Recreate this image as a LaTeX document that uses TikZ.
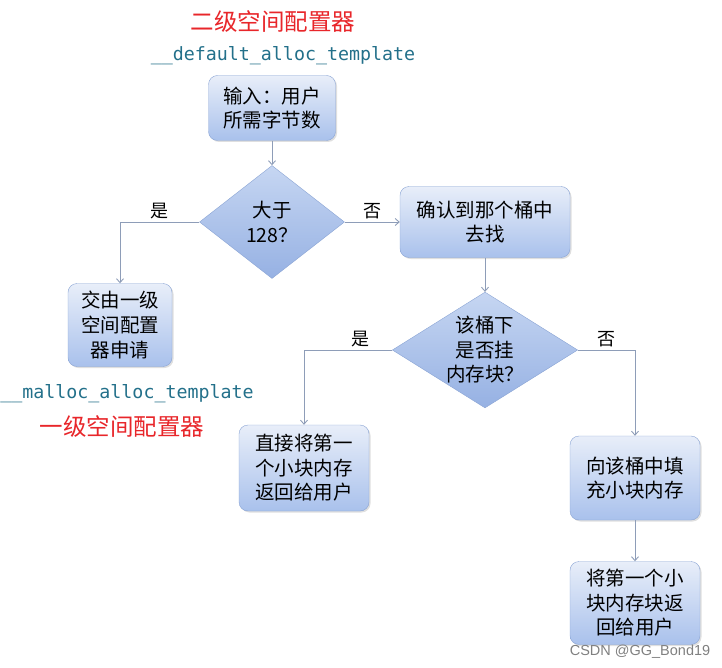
\documentclass[tikz,border=0pt]{standalone}
\usepackage{fontspec}
\newfontfamily\cjk{Noto Sans CJK SC}
\newfontfamily\codefont{DejaVu Sans Mono}
\newfontfamily\markfont{Liberation Sans}
\usetikzlibrary{shapes.geometric,arrows.meta,shadows}
\definecolor{boxtop}{HTML}{E8EEF9}
\definecolor{boxbot}{HTML}{A9C1EC}
\definecolor{boxline}{HTML}{8AA4D4}
\definecolor{dectop}{HTML}{C6D6F2}
\definecolor{decbot}{HTML}{96B1E3}
\definecolor{linegray}{HTML}{8E9DB8}
\definecolor{titlered}{HTML}{E8262A}
\definecolor{codeteal}{HTML}{23708A}

\begin{document}
\begin{tikzpicture}[x=1pt,y=-1pt,
    box/.style={draw=boxline, rounded corners=9pt, top color=boxtop, bottom color=boxbot,
        drop shadow={opacity=0.25,shadow xshift=1.5pt,shadow yshift=-1.5pt},
        align=center, inner sep=0pt, font=\cjk\fontsize{19.5}{24.5}\selectfont},
    decision/.style={diamond, draw=boxline, top color=dectop, bottom color=decbot,
        align=center, inner sep=0pt, font=\cjk\fontsize{19.5}{24.5}\selectfont},
    flow/.style={draw=linegray, line width=0.9pt, -{Straight Barb[length=4pt,width=7pt]}},
    answer/.style={font=\cjk\fontsize{18}{20}\selectfont, inner sep=3pt},
    title/.style={text=titlered, font=\cjk\fontsize{23.5}{26}\selectfont},
    code/.style={text=codeteal, font=\codefont\fontsize{18.3}{20}\selectfont}]
    \useasboundingbox (0,0) rectangle (722,668);
    % labels for the two allocators
    \node[title] (title2) at (273,22) {二级空间配置器};
    \node[code] (code2) at (283,56) {\_\_default\_alloc\_template};
    \node[code] (code1) at (127,394) {\_\_malloc\_alloc\_template};
    \node[title] (title1) at (122,427) {一级空间配置器};
    % boxes and decisions
    \node[box, minimum width=127pt, minimum height=65pt] (input) at (272,108) {输入：用户\\所需字节数};
    \node[decision, aspect=1.28, minimum width=145pt, minimum height=113pt] (big) at (272,222) {大于\\128？};
    \node[box, minimum width=170pt, minimum height=71pt] (find) at (485,222) {确认到那个桶中\\去找};
    \node[box, minimum width=104pt, minimum height=83pt] (first) at (120,325) {交由一级\\空间配置\\器申请};
    \node[decision, aspect=1.6, minimum width=185pt, minimum height=115pt] (hang) at (485,350) {该桶下\\是否挂\\内存块？};
    \node[box, minimum width=130pt, minimum height=86pt] (direct) at (304,468) {直接将第一\\个小块内存\\返回给用户};
    \node[box, minimum width=130pt, minimum height=84pt] (fill) at (635,478) {向该桶中填\\充小块内存};
    \node[box, minimum width=130pt, minimum height=83pt] (ret) at (635,603) {将第一个小\\块内存块返\\回给用户};
    % connectors
    \draw[flow] (input) -- (big);
    \draw[flow] (big.west) -| node[answer, pos=0.25, above] {是} (first);
    \draw[flow] (big) -- node[answer, above] {否} (find);
    \draw[flow] (find) -- (hang);
    \draw[flow] (hang.west) -| node[answer, pos=0.18, above] {是} (direct);
    \draw[flow] (hang.east) -| node[answer, pos=0.25, above] {否} (fill);
    \draw[flow] (fill) -- (ret);
    \node[text=gray, font=\markfont\fontsize{14.5}{16}\selectfont] (mark) at (640,652) {CSDN @GG\_Bond19};
\end{tikzpicture}
\end{document}
